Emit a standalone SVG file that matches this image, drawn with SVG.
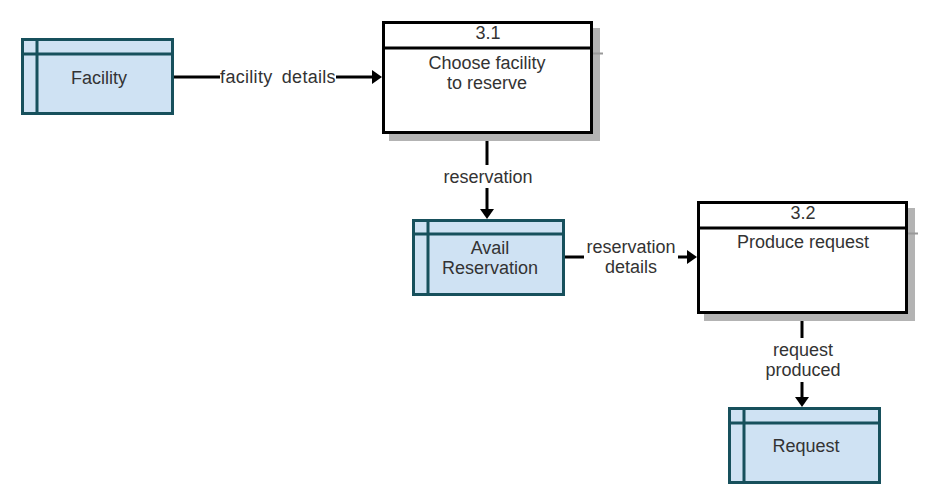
<svg xmlns="http://www.w3.org/2000/svg" width="933" height="498" viewBox="0 0 933 498">
<defs>
<style>
.t{font-family:"Liberation Sans",Arial,sans-serif;font-size:18px;fill:#333;text-anchor:middle}
.store{fill:#cfe2f3;stroke:#17505c;stroke-width:3}
.sline{stroke:#17505c;stroke-width:3;fill:none}
.proc{fill:#fff;stroke:#000;stroke-width:3}
.pline{stroke:#000;stroke-width:3;fill:none}
.shadow{fill:#b3b3b3}
.shline{stroke:#999;stroke-width:2}
.edge{stroke:#000;stroke-width:3;fill:none}
.lbg{fill:#fff}
</style>
<marker id="arr" markerUnits="userSpaceOnUse" markerWidth="12" markerHeight="16" refX="0" refY="7" orient="auto" viewBox="0 0 12 16">
<path d="M0,0 L10,7 L0,14 z" fill="#000"/>
</marker>
</defs>

<g id="connectors">
<g id="e1">
<path class="edge" d="M174,77 H372" marker-end="url(#arr)"/>
<rect class="lbg" x="220" y="66" width="116" height="22"/>
<text class="t" x="278" y="83" word-spacing="4" letter-spacing="0.3">facility details</text>
</g>
<g id="e2">
<path class="edge" d="M487,134 V209" marker-end="url(#arr)"/>
<rect class="lbg" x="441" y="165" width="94" height="23"/>
<text class="t" x="488" y="183">reservation</text>
</g>
<g id="e3">
<path class="edge" d="M565,257 H687" marker-end="url(#arr)"/>
<rect class="lbg" x="584" y="237" width="94" height="42"/>
<text class="t" x="631" y="253">reservation</text>
<text class="t" x="631" y="273">details</text>
</g>
<g id="e4">
<path class="edge" d="M802,314 V397" marker-end="url(#arr)"/>
<rect class="lbg" x="762" y="338" width="82" height="44"/>
<text class="t" x="803" y="356">request</text>
<text class="t" x="803" y="376">produced</text>
</g>
</g>

<g id="facility">
<rect class="store" x="22.5" y="39.5" width="150" height="74"/>
<path class="sline" d="M37,39.5 V113.5 M22.5,54 H172.5"/>
<text class="t" x="99" y="84">Facility</text>
</g>

<g id="p31">
<rect class="shadow" x="389" y="28" width="211" height="113"/>
<path class="shline" d="M593,53.5 H603"/>
<rect class="proc" x="383.5" y="22.5" width="208" height="110"/>
<path class="pline" d="M383.5,48 H591.5"/>
<text class="t" x="488" y="39">3.1</text>
<text class="t" x="487" y="69">Choose facility</text>
<text class="t" x="487" y="89">to reserve</text>
</g>

<g id="avail">
<rect class="store" x="413.5" y="220.5" width="150" height="74"/>
<path class="sline" d="M428,220.5 V294.5 M413.5,234 H563.5"/>
<text class="t" x="490" y="254">Avail</text>
<text class="t" x="490" y="274">Reservation</text>
</g>

<g id="p32">
<rect class="shadow" x="704" y="208" width="211" height="113"/>
<path class="shline" d="M908,233.5 H918"/>
<rect class="proc" x="698.5" y="202.5" width="208" height="110"/>
<path class="pline" d="M698.5,228 H906.5"/>
<text class="t" x="803" y="219">3.2</text>
<text class="t" x="803" y="248">Produce request</text>
</g>

<g id="request">
<rect class="store" x="729.5" y="408.5" width="150" height="74"/>
<path class="sline" d="M744,408.5 V482.5 M729.5,423 H879.5"/>
<text class="t" x="806" y="452">Request</text>
</g>
</svg>
